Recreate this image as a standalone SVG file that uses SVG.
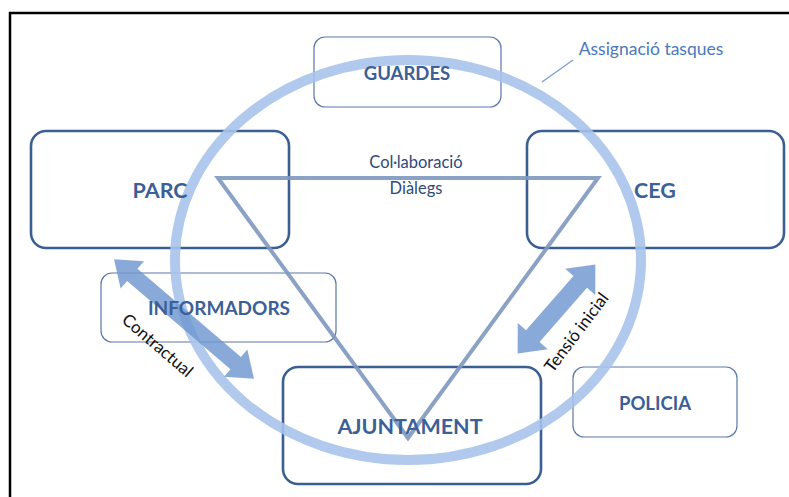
<svg xmlns="http://www.w3.org/2000/svg" width="789" height="497" viewBox="0 0 789 497">
  <style>
    .box-thick { fill: none; stroke: #3b5f93; stroke-width: 2.6; }
    .box-thin { fill: none; stroke: #5a78a8; stroke-width: 1.2; }
    .lbl { font-family: Lato, "Open Sans", sans-serif; font-weight: bold; fill: #3b5f97; text-anchor: middle; }
    .note { font-family: Lato, "Open Sans", sans-serif; fill: #2f4a78; text-anchor: middle; font-size: 16.5px; }
    .side { font-family: Lato, "Open Sans", sans-serif; fill: #111; text-anchor: middle; font-size: 17px; }
    .barrow { fill: #6f97d0; fill-opacity: 0.82; }
  </style>

  <!-- outer frame -->
  <rect x="10" y="13" width="800" height="500" fill="#fff" stroke="#000" stroke-width="2.5"/>

  <!-- nodes (outlines) -->
  <g id="guardes"><rect class="box-thin" x="314" y="37" width="187" height="70" rx="11"/></g>
  <g id="parc"><rect class="box-thick" x="31" y="131" width="258" height="117" rx="15"/></g>
  <g id="ceg"><rect class="box-thick" x="527" y="131" width="257" height="117" rx="15"/></g>
  <g id="informadors"><rect class="box-thin" x="101" y="273" width="235" height="69" rx="11"/></g>
  <g id="ajuntament"><rect class="box-thick" x="283" y="367" width="258" height="117" rx="15"/></g>
  <g id="policia"><rect class="box-thin" x="573" y="367" width="164" height="70" rx="11"/></g>

  <!-- connectors -->
  <g id="connectors">
    <!-- task assignment ring -->
    <ellipse cx="408" cy="260" rx="233" ry="200" fill="none" stroke="#a7c3ea" stroke-opacity="0.9" stroke-width="10"/>
    <line x1="542" y1="82" x2="573" y2="60" stroke="#7ea2d6" stroke-width="1.5"/>
    <!-- collaboration triangle -->
    <polygon points="218,178 598,178 408,438" fill="none" stroke="#7f98bf" stroke-opacity="0.9" stroke-width="4" stroke-linejoin="miter"/>
    <!-- contractual link -->
    <g transform="translate(184,319) rotate(40.5)">
      <polygon class="barrow" points="-92,0 -68,-18 -68,-8 68,-8 68,-18 92,0 68,18 68,8 -68,8 -68,18"/>
    </g>
    <!-- initial tension link -->
    <g transform="translate(556.5,309) rotate(-48.8)">
      <polygon class="barrow" points="-59,0 -36,-20 -36,-9 36,-9 36,-20 59,0 36,20 36,9 -36,9 -36,20"/>
    </g>
  </g>

  <!-- labels -->
  <g id="labels">
    <text class="lbl" x="407" y="80" font-size="18.5">GUARDES</text>
    <text class="lbl" x="160" y="198" font-size="21.5">PARC</text>
    <text class="lbl" x="655" y="198" font-size="21.5">CEG</text>
    <text class="lbl" x="219" y="315" font-size="19">INFORMADORS</text>
    <text class="lbl" x="410" y="434" font-size="21.5">AJUNTAMENT</text>
    <text class="lbl" x="655" y="410" font-size="18.5">POLICIA</text>
    <text class="note" x="416" y="168">Col·laboració</text>
    <text class="note" x="416" y="194">Diàlegs</text>
    <text class="note" x="651" y="55" style="fill:#4a78bb;font-size:17.5px">Assignació tasques</text>
    <text class="side" transform="translate(157,346) rotate(40.5)" y="5">Contractual</text>
    <text class="side" transform="translate(577,333) rotate(-53)" y="5">Tensió inicial</text>
  </g>
</svg>
